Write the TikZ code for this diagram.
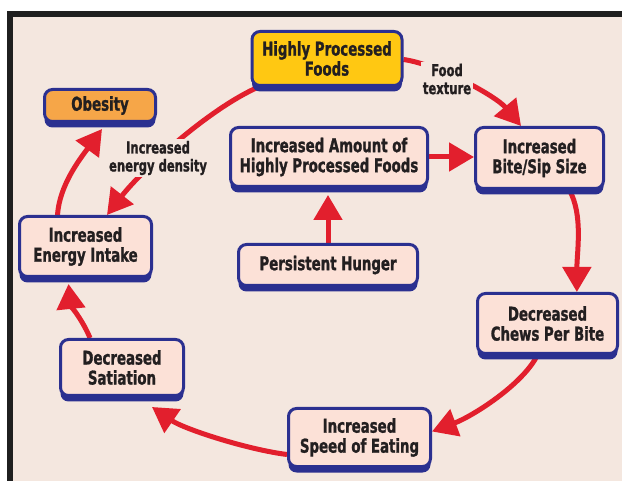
\documentclass[tikz,border=0pt]{standalone}
\usepackage{fontspec}
\setmainfont{DejaVu Sans Condensed}[FakeStretch=0.78, BoldFeatures={FakeBold=1.2}]
\usetikzlibrary{arrows.meta,shadows,calc}
\definecolor{bgc}{HTML}{F4E7DF}
\definecolor{boxpink}{HTML}{FCE1D7}
\definecolor{boxblue}{HTML}{2B3090}
\definecolor{arrred}{HTML}{E21F2D}
\definecolor{hpfyellow}{HTML}{FFC812}
\definecolor{obesorange}{HTML}{F6A648}
\definecolor{txt}{HTML}{231F20}
\pgfdeclarelayer{bglayer}
\pgfdeclarelayer{arrlayer}
\pgfsetlayers{bglayer,arrlayer,main}
\begin{document}
\begin{tikzpicture}[x=1pt,y=-1pt,
  box/.style={draw=boxblue, line width=3pt, rounded corners=8pt, fill=boxpink,
    align=center, text=txt, font=\bfseries\fontsize{19}{20}\selectfont, inner sep=2pt,
    drop shadow={shadow xshift=0pt, shadow yshift=-6pt, fill=boxblue, opacity=1}},
  lbl/.style={fill=bgc, text=txt, align=center,
    font=\bfseries\fontsize{16.5}{18}\selectfont, inner sep=1.5pt},
  arr/.style={draw=arrred, line width=5pt, -{Triangle[length=25pt,width=28pt]}}]
\useasboundingbox (0,0) rectangle (622,481);
\begin{pgfonlayer}{bglayer}
  \fill[white] (0,0) rectangle (622,481);
  \fill[bgc] (10,14) rectangle (622,481);
  \draw[black!88, line width=6pt] (10,490) -- (10,14) -- (630,14);
\end{pgfonlayer}

\node[box, fill=hpfyellow, minimum width=150pt, minimum height=54pt] (hpf) at (327,58.5) {Highly Processed\\Foods};
\node[box, fill=obesorange, minimum width=111pt, minimum height=32pt] (obes) at (100,105.5) {Obesity};
\node[box, minimum width=197pt, minimum height=59pt] (amount) at (329,157) {Increased Amount of\\Highly Processed Foods};
\node[box, minimum width=128pt, minimum height=61pt] (bite) at (539.5,158) {Increased\\Bite/Sip Size};
\node[box, minimum width=132pt, minimum height=60pt] (energy) at (85.5,246.5) {Increased\\Energy Intake};
\node[box, minimum width=179pt, minimum height=41pt] (hunger) at (328,265) {Persistent Hunger};
\node[box, minimum width=140pt, minimum height=60pt] (chews) at (547.5,323.5) {Decreased\\Chews Per Bite};
\node[box, minimum width=123pt, minimum height=56pt] (sat) at (122,367.5) {Decreased\\Satiation};
\node[box, minimum width=142pt, minimum height=58pt] (speed) at (359.5,437.5) {Increased\\Speed of Eating};

\node[lbl] (lbltex) at (447,79) {Food\\texture};
\node[lbl] (lbldens) at (158,158) {Increased\\energy density};

\begin{pgfonlayer}{arrlayer}
  \draw[arr] ([yshift=-1pt]hpf.east) .. controls +(35,5) and +(-25,-30) .. (bite.120);
  \draw[arr] (amount.east) -- (amount.east -| bite.west);
  \draw[arr] (hunger.north) -- ($(amount.south -| hunger.north)+(0,7)$);
  \draw[arr] (bite.-47) .. controls +(14,25) and +(0,-40) .. (chews.47);
  \draw[arr] ([xshift=-10pt]chews.south) .. controls +(-15,30) and +(40,-15) .. ([yshift=6pt]speed.east);
  \draw[arr] ([yshift=-17pt]speed.west) .. controls +(-40,-5) and +(32,22) .. ([xshift=30pt,yshift=-10pt]sat.south);
  \draw[arr] ([xshift=-32pt]sat.north) .. controls +(-6,-15) and +(2,20) .. ([xshift=-17pt,yshift=-6pt]energy.south);
  \draw[arr] ([xshift=-28pt]energy.north) .. controls +(2,-30) and +(-22,30) .. ([xshift=2pt,yshift=-6pt]obes.south);
  \draw[arr] ([xshift=8pt]hpf.south west) .. controls +(-50,22) and +(35,-45) .. ([xshift=21.5pt]energy.north);
\end{pgfonlayer}
\end{tikzpicture}
\end{document}
